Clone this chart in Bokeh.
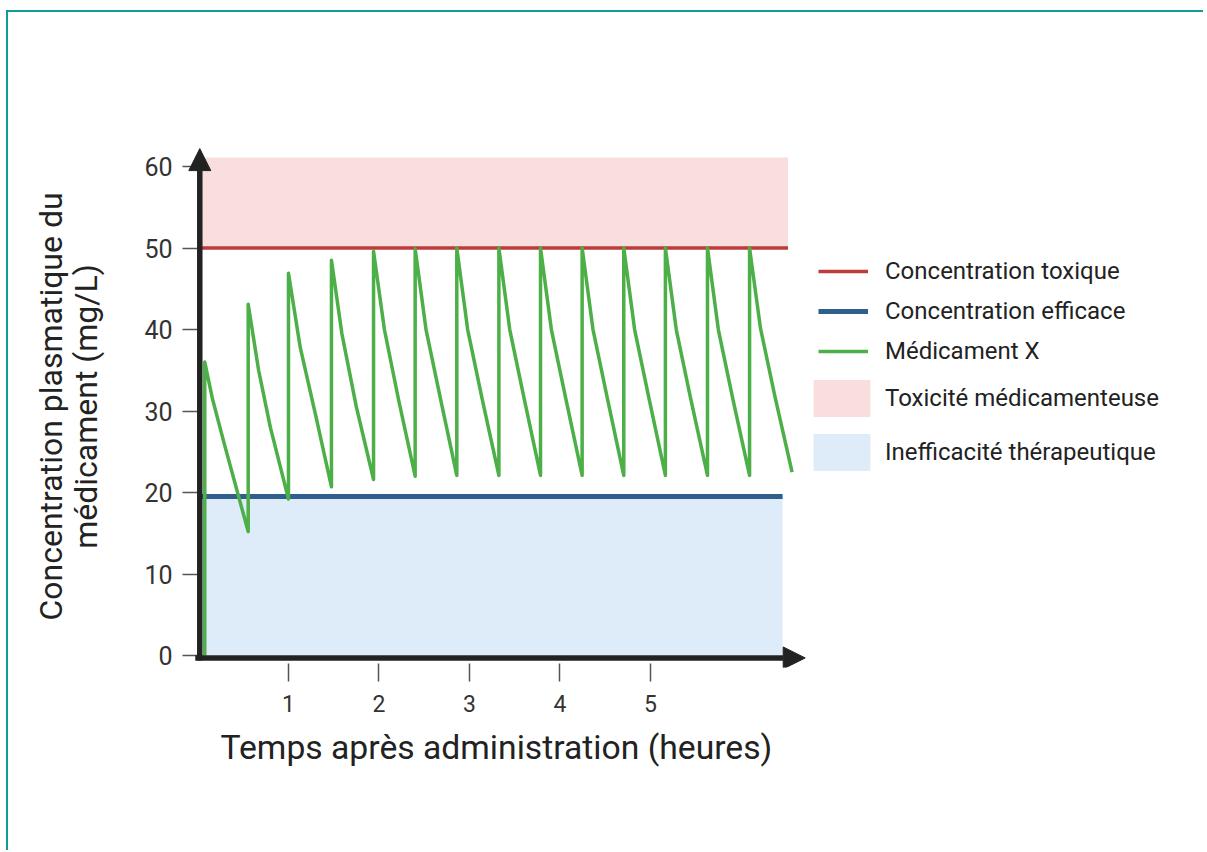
from bokeh.plotting import figure
from bokeh.models import Range1d, FixedTicker, Arrow, NormalHead, Legend, LegendItem, Title
from bokeh.embed import file_html
from bokeh.resources import INLINE

# ---- data ----
time_h = [0.075, 0.075, 0.16, 0.29, 0.555,
          0.555, 0.67, 0.80, 1.00,
          1.00, 1.13, 1.30, 1.475,
          1.475, 1.59, 1.75, 1.94,
          1.94, 2.06, 2.22, 2.40,
          2.40, 2.52, 2.68, 2.86,
          2.86, 2.98, 3.14, 3.325,
          3.325, 3.445, 3.605, 3.785,
          3.785, 3.905, 4.065, 4.245,
          4.245, 4.365, 4.525, 4.705,
          4.705, 4.825, 4.985, 5.165,
          5.165, 5.285, 5.445, 5.63,
          5.63, 5.75, 5.91, 6.095,
          6.095, 6.215, 6.375, 6.565]
conc_mg_l = [0.0, 36.0, 31.5, 26.0, 15.2,
             43.1, 35.0, 28.0, 19.2,
             46.9, 37.8, 29.5, 20.7,
             48.5, 39.5, 30.5, 21.6,
             49.6, 40.0, 31.2, 22.0,
             49.9, 40.0, 31.5, 22.1,
             50.0, 40.0, 31.5, 22.1,
             50.0, 40.0, 31.5, 22.1,
             50.0, 40.0, 31.5, 22.1,
             50.0, 40.0, 31.5, 22.1,
             50.0, 40.0, 31.5, 22.1,
             50.0, 40.0, 31.5, 22.1,
             50.0, 40.0, 31.5, 22.1,
             50.0, 40.2, 31.8, 22.5]

toxic_level = 50.0
effective_level = 19.5
toxic_zone_top = 61.1
zone_start = 0.03
toxic_end = 6.52
effective_end = 6.46
x_tick_values = [1, 2, 3, 4, 5]
y_tick_values = [0, 10, 20, 30, 40, 50, 60]

labels = ["Concentration toxique", "Concentration efficace", "Médicament X",
          "Toxicité médicamenteuse", "Inefficacité thérapeutique"]
x_title = "Temps après administration (heures)"
y_title = "Concentration plasmatique du\nmédicament (mg/L)"

FONT = "Roboto"
INK = "#222222"
TEAL = "#0e9c97"

p = figure(frame_width=1021, frame_height=522,
           min_border_left=174, min_border_top=133,
           min_border_right=0, min_border_bottom=183,
           x_range=Range1d(-0.171, 11.111), y_range=Range1d(-1.472, 62.58),
           output_backend="svg", toolbar_location=None,
           background_fill_color="white", border_fill_color="white")
p.styles = {"margin-left": "6px", "margin-top": "10px",
            "border-left": f"2px solid {TEAL}", "border-top": f"2px solid {TEAL}"}
p.outline_line_color = None
p.grid.visible = False

# zones
tox_zone = p.quad(left=[zone_start], right=[toxic_end], bottom=[toxic_level], top=[toxic_zone_top],
                  fill_color="#f9dede", line_color=None)
eff_zone = p.quad(left=[zone_start], right=[effective_end], bottom=[0], top=[effective_level],
                  fill_color="#deebf8", line_color=None)

# threshold lines
tox_line = p.line([zone_start, toxic_end], [toxic_level, toxic_level], line_color="#bd3b3b", line_width=3.5)
eff_line = p.line([zone_start, effective_end], [effective_level, effective_level], line_color="#2f5f8c", line_width=5)

# drug curve
drug = p.line(time_h, conc_mg_l, line_color="#4caf47", line_width=3.5, line_join="round")

# axes arrows
p.add_layout(Arrow(end=NormalHead(size=22, fill_color=INK, line_color=INK),
                   x_start=0.02, y_start=-0.6, x_end=0.02, y_end=62.2,
                   line_color=INK, line_width=5.5))
p.add_layout(Arrow(end=NormalHead(size=22, fill_color=INK, line_color=INK),
                   x_start=-0.03, y_start=-0.3, x_end=6.71, y_end=-0.3,
                   line_color=INK, line_width=5.5))

# axis styling
for ax in (p.xaxis[0], p.yaxis[0]):
    ax.axis_line_color = None
    ax.minor_tick_line_color = None
    ax.major_tick_line_color = "#555555"
    ax.major_tick_line_width = 1.5
    ax.major_label_text_font = FONT
    ax.major_label_text_color = "#333333"
    ax.axis_label_text_font = FONT
    ax.axis_label_text_font_style = "normal"
    ax.axis_label_text_color = INK

p.xaxis.ticker = FixedTicker(ticks=x_tick_values)
p.yaxis.ticker = FixedTicker(ticks=y_tick_values)
p.xaxis.major_label_text_font_size = "23px"
p.yaxis.major_label_text_font_size = "25px"
p.xaxis.major_tick_in = 4
p.xaxis.major_tick_out = 14
p.xaxis.major_label_standoff = 13
p.yaxis.major_tick_in = 15
p.yaxis.major_tick_out = 0
p.yaxis.major_label_standoff = 10
p.yaxis.axis_label = y_title
p.yaxis.axis_label_text_font_size = "32px"
p.yaxis.axis_label_standoff = 36
p.yaxis.axis_label_text_line_height = 0.92

# x-axis title, left-aligned under the arrow
p.add_layout(Title(text=x_title, align="left", offset=38, standoff=22,
                   text_font=FONT, text_font_size="33.7px", text_font_style="normal",
                   text_color=INK), "below")

# legends
leg1 = Legend(items=[LegendItem(label=labels[0], renderers=[tox_line]),
                     LegendItem(label=labels[1], renderers=[eff_line]),
                     LegendItem(label=labels[2], renderers=[drug])],
              location=(636, 296), glyph_width=50, glyph_height=40, spacing=0,
              label_standoff=17, padding=0, margin=0,
              border_line_color=None, background_fill_alpha=0,
              label_text_font=FONT, label_text_font_size="24px", label_text_color=INK)
leg2 = Legend(items=[LegendItem(label=labels[3], renderers=[tox_zone]),
                     LegendItem(label=labels[4], renderers=[eff_zone])],
              location=(624, 192), glyph_width=71, glyph_height=46, spacing=8,
              label_standoff=8, padding=0, margin=0,
              border_line_color=None, background_fill_alpha=0,
              label_text_font=FONT, label_text_font_size="24px", label_text_color=INK)
p.add_layout(leg1)
p.add_layout(leg2)

open("out.html", "w").write(file_html(p, INLINE))
